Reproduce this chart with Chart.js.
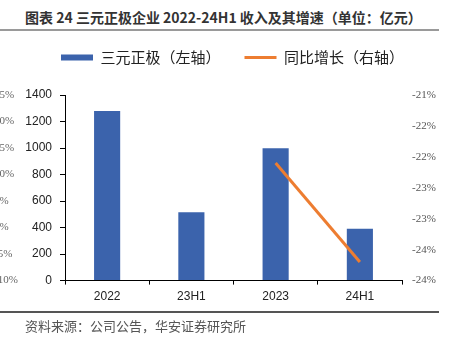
<!DOCTYPE html>
<html>
<head>
<meta charset="utf-8">
<script src="https://cdn.jsdelivr.net/npm/chart.js@4"></script>
<style>
    body { margin: 0; width: 453px; height: 337px; background: #fff; position: relative; overflow: hidden; }
    #titulo { position: absolute; left: 25px; top: 7px; font: bold 14px "Noto Sans CJK SC", sans-serif; color: #333; white-space: nowrap; }
    #reglaTop { position: absolute; left: 0; top: 29px; width: 439px; height: 2px; background: #9a9a9a; }
    #caja { position: absolute; left: 0; top: 22px; width: 453px; height: 290px; overflow: hidden; }
    #lienzo { position: absolute; left: -45px; top: 0; width: 528px; height: 290px; }
    #reglaBottom { position: absolute; left: 0; top: 311px; width: 439px; height: 1.5px; background: #555; }
    #fuente { position: absolute; left: 25px; top: 316px; font: 13px "Noto Sans CJK SC", serif; color: #555; white-space: nowrap; }
</style>
</head>
<body>
<div id="titulo">图表 24 三元正极企业 2022-24H1 收入及其增速（单位：亿元）</div>
<div id="reglaTop"></div>
<div id="caja"><div id="lienzo"><canvas id="grafico" width="528" height="290"></canvas></div></div>
<div id="reglaBottom"></div>
<div id="fuente">资料来源：公司公告，华安证券研究所</div>

<script>
// Datos
const periodos = ['2022', '23H1', '2023', '24H1'];
const ingresos = [1280, 515, 998, 392];
const crecimiento = [null, null, -22.1, -23.7];

// Eje fantasma recortado a la izquierda (restos de otro eje)
const ejeFantasmaMin = -10;
const ejeFantasmaMax = 25;

// Margen extra bajo la leyenda
const separacionLeyenda = {
    id: 'separacionLeyenda',
    beforeInit(chart) {
        const fitOriginal = chart.legend.fit;
        chart.legend.fit = function () {
            fitOriginal.call(this);
            this.height += 20;
        };
    }
};

new Chart(document.getElementById('grafico'), {
    data: {
        labels: periodos,
        datasets: [
            {
                type: 'bar',
                label: '三元正极（左轴）',
                data: ingresos,
                backgroundColor: '#3B63AC',
                borderWidth: 0,
                pointStyle: 'rect',
                yAxisID: 'y',
                barPercentage: 0.31,
                categoryPercentage: 1,
                order: 1
            },
            {
                type: 'line',
                label: '同比增长（右轴）',
                data: crecimiento,
                borderColor: '#ED7D31',
                backgroundColor: '#ED7D31',
                borderWidth: 3,
                pointRadius: 0,
                pointStyle: 'line',
                yAxisID: 'y1',
                order: 0
            }
        ]
    },
    options: {
        responsive: false,
        animation: false,
        layout: { padding: { left: 39, right: 12, top: 4, bottom: 3 } },
        plugins: {
            legend: {
                position: 'top',
                labels: {
                    usePointStyle: true,
                    pointStyleWidth: 32,
                    boxHeight: 6,
                    padding: 24,
                    color: '#222',
                    font: { family: '"Noto Sans CJK SC", sans-serif', size: 15 },
                    sort: (a, b) => a.datasetIndex - b.datasetIndex
                }
            },
            tooltip: { enabled: false }
        },
        scales: {
            x: {
                grid: { drawOnChartArea: false, tickLength: 4, color: '#000' },
                border: { color: '#000', width: 1 },
                ticks: { color: '#222', padding: 5, font: { family: '"Liberation Sans", Arial', size: 12 } }
            },
            y: {
                position: 'left',
                min: 0,
                max: 1400,
                weight: 0,
                afterFit: (escala) => { escala.width = 45; },
                grid: { drawOnChartArea: false, tickLength: 5, color: '#000' },
                border: { color: '#000', width: 1 },
                ticks: {
                    stepSize: 200,
                    color: '#222',
                    padding: 8,
                    font: { family: '"Liberation Sans", Arial', size: 12 },
                    callback: (v) => String(v)
                }
            },
            yFantasma: {
                position: 'left',
                min: ejeFantasmaMin,
                max: ejeFantasmaMax,
                weight: 1,
                afterFit: (escala) => { escala.width = 26; },
                grid: { display: false, drawTicks: false },
                border: { display: false },
                ticks: {
                    stepSize: 5,
                    crossAlign: 'far',
                    color: '#666',
                    font: { family: '"Liberation Serif", serif', size: 11 },
                    callback: (v) => v + '%'
                }
            },
            y1: {
                position: 'right',
                min: -24,
                max: -21,
                afterFit: (escala) => { escala.width = 69; },
                grid: { display: false, drawTicks: false },
                border: { display: false },
                ticks: {
                    stepSize: 0.5,
                    padding: 10,
                    color: '#555',
                    font: { family: '"Liberation Serif", serif', size: 11 },
                    callback: (v) => v.toFixed(0) + '%'
                }
            }
        }
    },
    plugins: [separacionLeyenda]
});
</script>
</body>
</html>
